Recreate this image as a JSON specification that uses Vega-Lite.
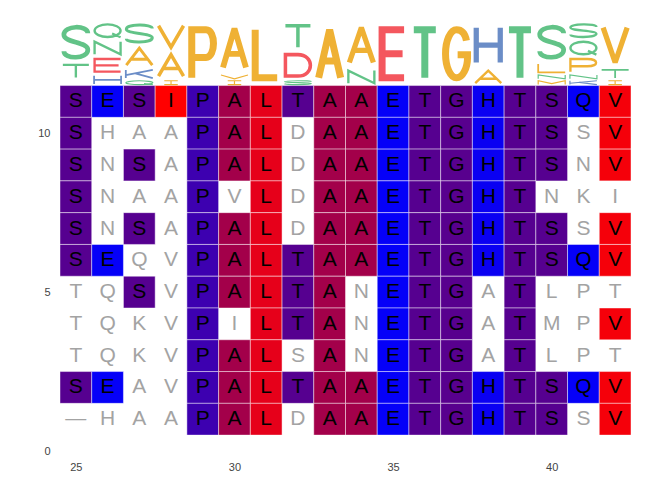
{
"$schema": "https://vega.github.io/schema/vega-lite/v6.json",
"width": 571, "height": 429,
"autosize": {"type": "none"},
"padding": {"left": 60, "top": 22, "right": 41, "bottom": 29},
"background": "white",
"config": {"view": {"stroke": null}, "axis": {"grid": false, "domain": false, "ticks": false, "tickSize": 0, "labelFont": "Liberation Sans", "labelFontSize": 11, "labelColor": "#444444", "labelPadding": 10}},
"data": {"values": [
{"row":11,"pos":25,"res":"S"},{"row":11,"pos":26,"res":"E"},{"row":11,"pos":27,"res":"S"},{"row":11,"pos":28,"res":"I"},{"row":11,"pos":29,"res":"P"},{"row":11,"pos":30,"res":"A"},{"row":11,"pos":31,"res":"L"},{"row":11,"pos":32,"res":"T"},{"row":11,"pos":33,"res":"A"},{"row":11,"pos":34,"res":"A"},{"row":11,"pos":35,"res":"E"},{"row":11,"pos":36,"res":"T"},{"row":11,"pos":37,"res":"G"},{"row":11,"pos":38,"res":"H"},{"row":11,"pos":39,"res":"T"},{"row":11,"pos":40,"res":"S"},{"row":11,"pos":41,"res":"Q"},{"row":11,"pos":42,"res":"V"},
{"row":10,"pos":25,"res":"S"},{"row":10,"pos":26,"res":"H"},{"row":10,"pos":27,"res":"A"},{"row":10,"pos":28,"res":"A"},{"row":10,"pos":29,"res":"P"},{"row":10,"pos":30,"res":"A"},{"row":10,"pos":31,"res":"L"},{"row":10,"pos":32,"res":"D"},{"row":10,"pos":33,"res":"A"},{"row":10,"pos":34,"res":"A"},{"row":10,"pos":35,"res":"E"},{"row":10,"pos":36,"res":"T"},{"row":10,"pos":37,"res":"G"},{"row":10,"pos":38,"res":"H"},{"row":10,"pos":39,"res":"T"},{"row":10,"pos":40,"res":"S"},{"row":10,"pos":41,"res":"S"},{"row":10,"pos":42,"res":"V"},
{"row":9,"pos":25,"res":"S"},{"row":9,"pos":26,"res":"N"},{"row":9,"pos":27,"res":"S"},{"row":9,"pos":28,"res":"A"},{"row":9,"pos":29,"res":"P"},{"row":9,"pos":30,"res":"A"},{"row":9,"pos":31,"res":"L"},{"row":9,"pos":32,"res":"D"},{"row":9,"pos":33,"res":"A"},{"row":9,"pos":34,"res":"A"},{"row":9,"pos":35,"res":"E"},{"row":9,"pos":36,"res":"T"},{"row":9,"pos":37,"res":"G"},{"row":9,"pos":38,"res":"H"},{"row":9,"pos":39,"res":"T"},{"row":9,"pos":40,"res":"S"},{"row":9,"pos":41,"res":"N"},{"row":9,"pos":42,"res":"V"},
{"row":8,"pos":25,"res":"S"},{"row":8,"pos":26,"res":"N"},{"row":8,"pos":27,"res":"A"},{"row":8,"pos":28,"res":"A"},{"row":8,"pos":29,"res":"P"},{"row":8,"pos":30,"res":"V"},{"row":8,"pos":31,"res":"L"},{"row":8,"pos":32,"res":"D"},{"row":8,"pos":33,"res":"A"},{"row":8,"pos":34,"res":"A"},{"row":8,"pos":35,"res":"E"},{"row":8,"pos":36,"res":"T"},{"row":8,"pos":37,"res":"G"},{"row":8,"pos":38,"res":"H"},{"row":8,"pos":39,"res":"T"},{"row":8,"pos":40,"res":"N"},{"row":8,"pos":41,"res":"K"},{"row":8,"pos":42,"res":"I"},
{"row":7,"pos":25,"res":"S"},{"row":7,"pos":26,"res":"N"},{"row":7,"pos":27,"res":"S"},{"row":7,"pos":28,"res":"A"},{"row":7,"pos":29,"res":"P"},{"row":7,"pos":30,"res":"A"},{"row":7,"pos":31,"res":"L"},{"row":7,"pos":32,"res":"D"},{"row":7,"pos":33,"res":"A"},{"row":7,"pos":34,"res":"A"},{"row":7,"pos":35,"res":"E"},{"row":7,"pos":36,"res":"T"},{"row":7,"pos":37,"res":"G"},{"row":7,"pos":38,"res":"H"},{"row":7,"pos":39,"res":"T"},{"row":7,"pos":40,"res":"S"},{"row":7,"pos":41,"res":"S"},{"row":7,"pos":42,"res":"V"},
{"row":6,"pos":25,"res":"S"},{"row":6,"pos":26,"res":"E"},{"row":6,"pos":27,"res":"Q"},{"row":6,"pos":28,"res":"V"},{"row":6,"pos":29,"res":"P"},{"row":6,"pos":30,"res":"A"},{"row":6,"pos":31,"res":"L"},{"row":6,"pos":32,"res":"T"},{"row":6,"pos":33,"res":"A"},{"row":6,"pos":34,"res":"A"},{"row":6,"pos":35,"res":"E"},{"row":6,"pos":36,"res":"T"},{"row":6,"pos":37,"res":"G"},{"row":6,"pos":38,"res":"H"},{"row":6,"pos":39,"res":"T"},{"row":6,"pos":40,"res":"S"},{"row":6,"pos":41,"res":"Q"},{"row":6,"pos":42,"res":"V"},
{"row":5,"pos":25,"res":"T"},{"row":5,"pos":26,"res":"Q"},{"row":5,"pos":27,"res":"S"},{"row":5,"pos":28,"res":"V"},{"row":5,"pos":29,"res":"P"},{"row":5,"pos":30,"res":"A"},{"row":5,"pos":31,"res":"L"},{"row":5,"pos":32,"res":"T"},{"row":5,"pos":33,"res":"A"},{"row":5,"pos":34,"res":"N"},{"row":5,"pos":35,"res":"E"},{"row":5,"pos":36,"res":"T"},{"row":5,"pos":37,"res":"G"},{"row":5,"pos":38,"res":"A"},{"row":5,"pos":39,"res":"T"},{"row":5,"pos":40,"res":"L"},{"row":5,"pos":41,"res":"P"},{"row":5,"pos":42,"res":"T"},
{"row":4,"pos":25,"res":"T"},{"row":4,"pos":26,"res":"Q"},{"row":4,"pos":27,"res":"K"},{"row":4,"pos":28,"res":"V"},{"row":4,"pos":29,"res":"P"},{"row":4,"pos":30,"res":"I"},{"row":4,"pos":31,"res":"L"},{"row":4,"pos":32,"res":"T"},{"row":4,"pos":33,"res":"A"},{"row":4,"pos":34,"res":"N"},{"row":4,"pos":35,"res":"E"},{"row":4,"pos":36,"res":"T"},{"row":4,"pos":37,"res":"G"},{"row":4,"pos":38,"res":"A"},{"row":4,"pos":39,"res":"T"},{"row":4,"pos":40,"res":"M"},{"row":4,"pos":41,"res":"P"},{"row":4,"pos":42,"res":"V"},
{"row":3,"pos":25,"res":"T"},{"row":3,"pos":26,"res":"Q"},{"row":3,"pos":27,"res":"K"},{"row":3,"pos":28,"res":"V"},{"row":3,"pos":29,"res":"P"},{"row":3,"pos":30,"res":"A"},{"row":3,"pos":31,"res":"L"},{"row":3,"pos":32,"res":"S"},{"row":3,"pos":33,"res":"A"},{"row":3,"pos":34,"res":"N"},{"row":3,"pos":35,"res":"E"},{"row":3,"pos":36,"res":"T"},{"row":3,"pos":37,"res":"G"},{"row":3,"pos":38,"res":"A"},{"row":3,"pos":39,"res":"T"},{"row":3,"pos":40,"res":"L"},{"row":3,"pos":41,"res":"P"},{"row":3,"pos":42,"res":"T"},
{"row":2,"pos":25,"res":"S"},{"row":2,"pos":26,"res":"E"},{"row":2,"pos":27,"res":"A"},{"row":2,"pos":28,"res":"V"},{"row":2,"pos":29,"res":"P"},{"row":2,"pos":30,"res":"A"},{"row":2,"pos":31,"res":"L"},{"row":2,"pos":32,"res":"T"},{"row":2,"pos":33,"res":"A"},{"row":2,"pos":34,"res":"A"},{"row":2,"pos":35,"res":"E"},{"row":2,"pos":36,"res":"T"},{"row":2,"pos":37,"res":"G"},{"row":2,"pos":38,"res":"H"},{"row":2,"pos":39,"res":"T"},{"row":2,"pos":40,"res":"S"},{"row":2,"pos":41,"res":"Q"},{"row":2,"pos":42,"res":"V"},
{"row":1,"pos":25,"res":"-"},{"row":1,"pos":26,"res":"H"},{"row":1,"pos":27,"res":"A"},{"row":1,"pos":28,"res":"A"},{"row":1,"pos":29,"res":"P"},{"row":1,"pos":30,"res":"A"},{"row":1,"pos":31,"res":"L"},{"row":1,"pos":32,"res":"D"},{"row":1,"pos":33,"res":"A"},{"row":1,"pos":34,"res":"A"},{"row":1,"pos":35,"res":"E"},{"row":1,"pos":36,"res":"T"},{"row":1,"pos":37,"res":"G"},{"row":1,"pos":38,"res":"H"},{"row":1,"pos":39,"res":"T"},{"row":1,"pos":40,"res":"S"},{"row":1,"pos":41,"res":"S"},{"row":1,"pos":42,"res":"V"}
]},
"layer": [
{
"transform": [
{"window": [{"op": "first_value", "field": "res", "as": "ref"}], "groupby": ["pos"], "sort": [{"field": "row", "order": "descending"}], "frame": [null, null]},
{"filter": "datum.res === datum.ref"},
{"calculate": "datum.pos - 0.5", "as": "x0"},
{"calculate": "datum.pos + 0.5", "as": "x1"},
{"calculate": "datum.row - 0.5", "as": "y0"},
{"calculate": "datum.row + 0.5", "as": "y1"}
],
"mark": {"type": "rect", "stroke": "white", "strokeWidth": 1, "strokeOpacity": 0.45},
"encoding": {
"x": {"field": "x0", "type": "quantitative", "scale": {"domain": [24.5, 42.5], "nice": false, "zero": false}, "axis": {"values": [25, 30, 35, 40], "title": null}},
"x2": {"field": "x1"},
"y": {"field": "y0", "type": "quantitative", "scale": {"domain": [0, 13.5], "nice": false, "zero": false}, "axis": {"values": [0, 5, 10], "title": null}},
"y2": {"field": "y1"},
"fill": {"field": "res", "type": "nominal", "legend": null, "scale": {
"domain": ["I", "V", "L", "A", "G", "T", "S", "P", "H", "E", "Q"],
"range": ["#FF0000", "#F5000A", "#E6001A", "#A3004A", "#58008E", "#560090", "#560090", "#3D00B0", "#0A00F2", "#0500F8", "#0500F8"]}}
}
},
{
"transform": [
{"window": [{"op": "first_value", "field": "res", "as": "ref"}], "groupby": ["pos"], "sort": [{"field": "row", "order": "descending"}], "frame": [null, null]},
{"calculate": "datum.res === datum.ref", "as": "hit"},
{"calculate": "datum.res === '-' ? '\u2014' : datum.res", "as": "label"}
],
"mark": {"type": "text", "font": "Liberation Sans", "fontSize": 21, "baseline": "middle", "align": "center"},
"encoding": {
"x": {"field": "pos", "type": "quantitative"},
"y": {"field": "row", "type": "quantitative"},
"text": {"field": "label"},
"color": {"condition": {"test": "datum.hit", "value": "#000000"}, "value": "#A3A3A3"}
}
},
{
"transform": [
{"aggregate": [{"op": "count", "as": "n"}], "groupby": ["pos", "res"]},
{"stack": "n", "groupby": ["pos"], "sort": [{"field": "n", "order": "ascending"}, {"field": "res", "order": "ascending"}], "as": ["s0", "s1"]},
{"filter": "datum.res !== '-'"},
{"calculate": "11.5 + (datum.s0 + datum.s1) / 11", "as": "yc"},
{"calculate": "datum.res + datum.n", "as": "glyph"}
],
"mark": {"type": "point", "filled": false, "size": 4, "opacity": 1, "strokeMiterLimit": 2},
"encoding": {
"x": {"field": "pos", "type": "quantitative"},
"y": {"field": "yc", "type": "quantitative"},
"shape": {"field": "glyph", "type": "nominal", "legend": null, "scale": {
"domain": ["S7","T3","H2","E3","N3","Q3","Q1","K2","A4","S4","I1","A5","V5","P11","V1","A9","L11","S1","D5","T5","A11","A8","E11","T11","G11","H8","M1","N1","L2","K1","P3","S3","T2","V8","A3"],
"range": [
"M12 -9C12 -17.25 -12 -17.25 -12 -7.5C-12 0.75 12 -0.75 12 7.5C12 17.25 -12 17.25 -12 9",
"M-13 -6.3L13 -6.3M0 -6.3L0 6.3",
"M-13.5 -4.1L-13.5 4.1M13.5 -4.1L13.5 4.1M-13.5 0L13.5 0",
"M13 -6.3L-13 -6.3L-13 6.3L13 6.3M-13 0L11 0",
"M-13 6.3L-13 -6.3L13 6.3L13 -6.3",
"M0 -6.3C7.18 -6.3 13 -3.48 13 0C13 3.48 7.18 6.3 0 6.3C-7.18 6.3 -13 3.48 -13 0C-13 -3.48 -7.18 -6.3 0 -6.3ZM4.55 2.84L13 6.6",
"M0 -1.9C7.45 -1.9 13.5 -1.05 13.5 0C13.5 1.05 7.45 1.9 0 1.9C-7.45 1.9 -13.5 1.05 -13.5 0C-13.5 -1.05 -7.45 -1.9 0 -1.9ZM4.73 0.86L13.5 2",
"M-13.5 -4.1L-13.5 4.1M13.5 -4.1L-13.5 1.23M-4.05 -0.62L13.5 4.1",
"M-13 8.5L0 -8.5L13 8.5M-8.45 2.55L8.45 2.55",
"M13 -5.1C13 -9.78 -13 -9.78 -13 -4.25C-13 0.43 13 -0.43 13 4.25C13 9.78 -13 9.78 -13 5.1",
"M-6.75 -1.9L6.75 -1.9M0 -1.9L0 1.9M-6.75 1.9L6.75 1.9",
"M-12.5 10.7L0 -10.7L12.5 10.7M-8.13 3.21L8.13 3.21",
"M-12.5 -10.7L0 10.7L12.5 -10.7",
"M-11 24L-11 -24L3.3 -24C13.2 -24 13.2 3.6 3.3 3.6L-11 3.6",
"M-13.5 -1.9L0 1.9L13.5 -1.9",
"M-11.5 19.5L0 -19.5L11.5 19.5M-7.48 5.85L7.48 5.85",
"M-11 -24L-11 24L11 24",
"M13.5 -1.14C13.5 -2.19 -13.5 -2.19 -13.5 -0.95C-13.5 0.1 13.5 -0.1 13.5 0.95C13.5 2.19 -13.5 2.19 -13.5 1.14",
"M-12.5 -10.7L-12.5 10.7L0 10.7C16.63 10.7 16.63 -10.7 0 -10.7Z",
"M-12.5 -10.7L12.5 -10.7M0 -10.7L0 10.7",
"M-11 24L0 -24L11 24M-7.15 7.2L7.15 7.2",
"M-12 17.4L0 -17.4L12 17.4M-7.8 5.22L7.8 5.22",
"M11 -24L-11 -24L-11 24L11 24M-11 0L9.5 0",
"M-11 -24L11 -24M0 -24L0 24",
"M9.9 -13.2C8.25 -21.6 4.4 -24 0 -24C-6.07 -24 -11 -13.25 -11 0C-11 13.25 -6.07 24 0 24C6.07 24 11 14.4 11 3.6L11 1L1.1 1",
"M-12 -17.4L-12 17.4M12 -17.4L12 17.4M-12 0L12 0",
"M-13.5 1.9L-13.5 -1.9L0 0.95L13.5 -1.9L13.5 1.9",
"M-13.5 1.9L-13.5 -1.9L13.5 1.9L13.5 -1.9",
"M-13.5 -4.1L-13.5 4.1L13.5 4.1",
"M-13.5 -1.9L-13.5 1.9M13.5 -1.9L-13.5 0.57M-4.05 -0.29L13.5 1.9",
"M-13 6.3L-13 -6.3L3.9 -6.3C15.6 -6.3 15.6 0.95 3.9 0.95L-13 0.95",
"M13 -3.78C13 -7.25 -13 -7.25 -13 -3.15C-13 0.32 13 -0.32 13 3.15C13 7.25 -13 7.25 -13 3.78",
"M-13.5 -4.1L13.5 -4.1M0 -4.1L0 4.1",
"M-12 -17.4L0 17.4L12 -17.4",
"M-13 6.3L0 -6.3L13 6.3M-8.45 1.89L8.45 1.89"
]}},
"stroke": {"field": "res", "type": "nominal", "legend": null, "scale": {
"domain": ["A", "P", "L", "V", "I", "M", "G", "S", "T", "N", "Q", "D", "E", "H", "K"],
"range": ["#EFB134", "#EFB134", "#EFB134", "#EFB134", "#EFB134", "#EFB134", "#EFB134", "#62C387", "#62C387", "#62C387", "#62C387", "#F4575E", "#F4575E", "#6B8DC7", "#6B8DC7"]}},
"strokeWidth": {"field": "n", "type": "quantitative", "legend": null, "scale": {"domain": [1, 11], "range": [1.2, 7], "zero": false}}
}
}
]
}
